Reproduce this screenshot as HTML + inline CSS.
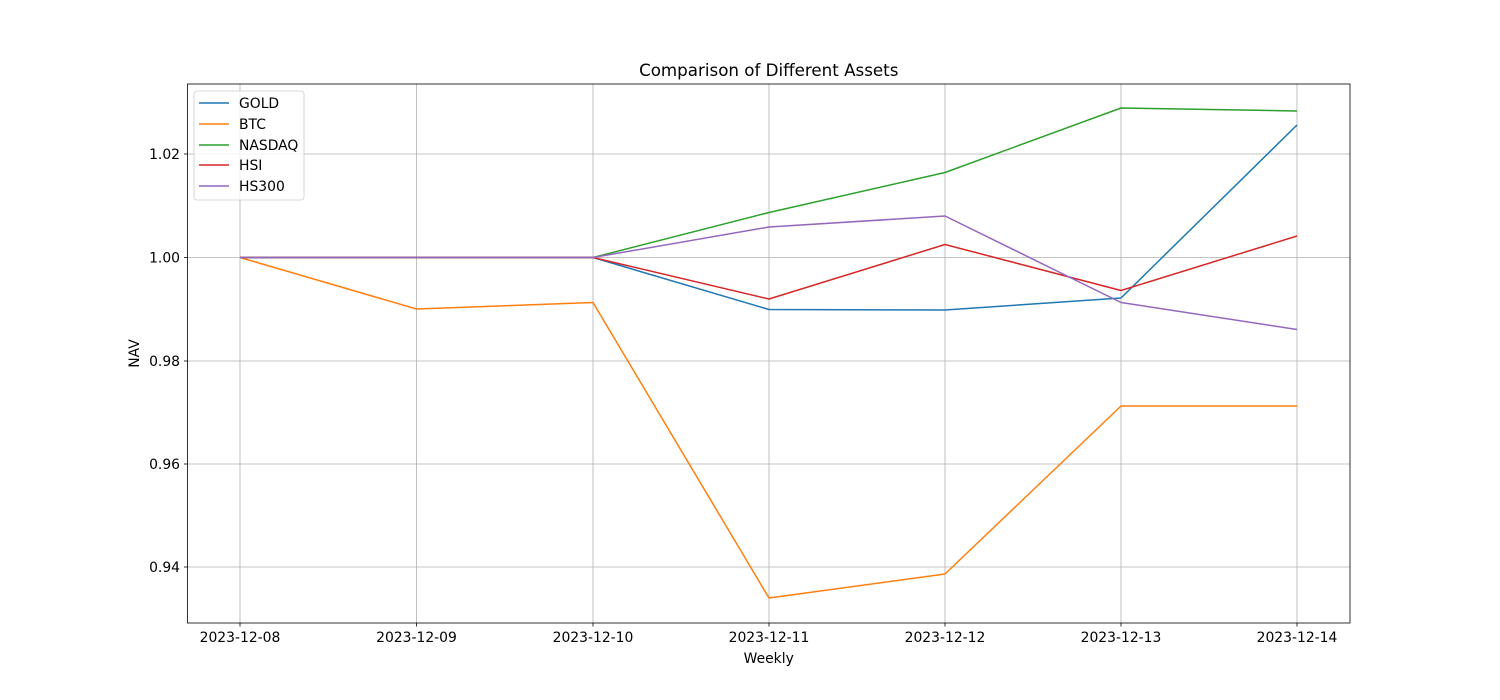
<!DOCTYPE html>
<html><head><meta charset="utf-8"><style>
html,body{margin:0;padding:0;background:#fff;}
svg{display:block;font-family:"DejaVu Sans","Liberation Sans",sans-serif;}
</style></head><body>
<svg width="1500" height="700" viewBox="0 0 1500 700" xmlns="http://www.w3.org/2000/svg">
<rect width="1500" height="700" fill="#fff"/>
<g stroke="#b0b0b0" stroke-width="0.8">
<line x1="240" y1="84" x2="240" y2="623"/>
<line x1="416.5" y1="84" x2="416.5" y2="623"/>
<line x1="593" y1="84" x2="593" y2="623"/>
<line x1="769" y1="84" x2="769" y2="623"/>
<line x1="945" y1="84" x2="945" y2="623"/>
<line x1="1121" y1="84" x2="1121" y2="623"/>
<line x1="1297" y1="84" x2="1297" y2="623"/>
<line x1="187.5" y1="154" x2="1350" y2="154"/>
<line x1="187.5" y1="257.5" x2="1350" y2="257.5"/>
<line x1="187.5" y1="361" x2="1350" y2="361"/>
<line x1="187.5" y1="464" x2="1350" y2="464"/>
<line x1="187.5" y1="567" x2="1350" y2="567"/>
</g>
<g fill="none" stroke-width="1.5" stroke-linejoin="round">
<polyline stroke="#1f77b4" points="240,257.5 416.5,257.5 593,257.5 769,309.5 945,310 1121,298 1297,125"/>
<polyline stroke="#ff7f0e" points="240,257.5 416.5,309 593,302.5 769,598 945,574 1121,406 1297,406"/>
<polyline stroke="#2ca02c" points="240,257.5 416.5,257.5 593,257.5 769,212.5 945,172.5 1121,108 1297,111"/>
<polyline stroke="#d62728" points="240,257.5 416.5,257.5 593,257.5 769,299 945,244.5 1121,290.5 1297,236"/>
<polyline stroke="#9467bd" points="240,257.5 416.5,257.5 593,257.5 769,227 945,216 1121,302.5 1297,329.5"/>
</g>
<rect x="187.5" y="84" width="1162.5" height="539" fill="none" stroke="#000" stroke-width="0.8"/>
<g stroke="#000" stroke-width="0.8">
<line x1="240" y1="623" x2="240" y2="626.5"/><line x1="416.5" y1="623" x2="416.5" y2="626.5"/>
<line x1="593" y1="623" x2="593" y2="626.5"/><line x1="769" y1="623" x2="769" y2="626.5"/>
<line x1="945" y1="623" x2="945" y2="626.5"/><line x1="1121" y1="623" x2="1121" y2="626.5"/>
<line x1="1297" y1="623" x2="1297" y2="626.5"/>
<line x1="184" y1="154" x2="187.5" y2="154"/><line x1="184" y1="257.5" x2="187.5" y2="257.5"/>
<line x1="184" y1="361" x2="187.5" y2="361"/><line x1="184" y1="464" x2="187.5" y2="464"/>
<line x1="184" y1="567" x2="187.5" y2="567"/>
</g>
<g font-size="13.9" fill="#000" text-anchor="middle">
<text x="240" y="642">2023-12-08</text><text x="416.5" y="642">2023-12-09</text>
<text x="593" y="642">2023-12-10</text><text x="769" y="642">2023-12-11</text>
<text x="945" y="642">2023-12-12</text><text x="1121" y="642">2023-12-13</text>
<text x="1297" y="642">2023-12-14</text>
<text x="768.75" y="663">Weekly</text>
<text x="768.75" y="76" font-size="16.7">Comparison of Different Assets</text>
</g>
<g font-size="13.9" fill="#000" text-anchor="end">
<text x="180" y="159">1.02</text><text x="180" y="262.5">1.00</text>
<text x="180" y="366">0.98</text><text x="180" y="469">0.96</text><text x="180" y="572">0.94</text>
</g>
<text x="139" y="353.5" font-size="13.9" text-anchor="middle" transform="rotate(-90 139 353.5)">NAV</text>
<rect x="194" y="91" width="110" height="109" rx="3" fill="#fff" fill-opacity="0.8" stroke="#ccc" stroke-width="0.8"/>
<g stroke-width="1.5">
<line x1="199" y1="103" x2="229" y2="103" stroke="#1f77b4"/>
<line x1="199" y1="124" x2="229" y2="124" stroke="#ff7f0e"/>
<line x1="199" y1="145" x2="229" y2="145" stroke="#2ca02c"/>
<line x1="199" y1="165" x2="229" y2="165" stroke="#d62728"/>
<line x1="199" y1="186" x2="229" y2="186" stroke="#9467bd"/>
</g>
<g font-size="13.9" fill="#000">
<text x="239" y="108">GOLD</text><text x="239" y="129">BTC</text>
<text x="239" y="150">NASDAQ</text><text x="239" y="170">HSI</text><text x="239" y="191">HS300</text>
</g>
</svg>
</body></html>
